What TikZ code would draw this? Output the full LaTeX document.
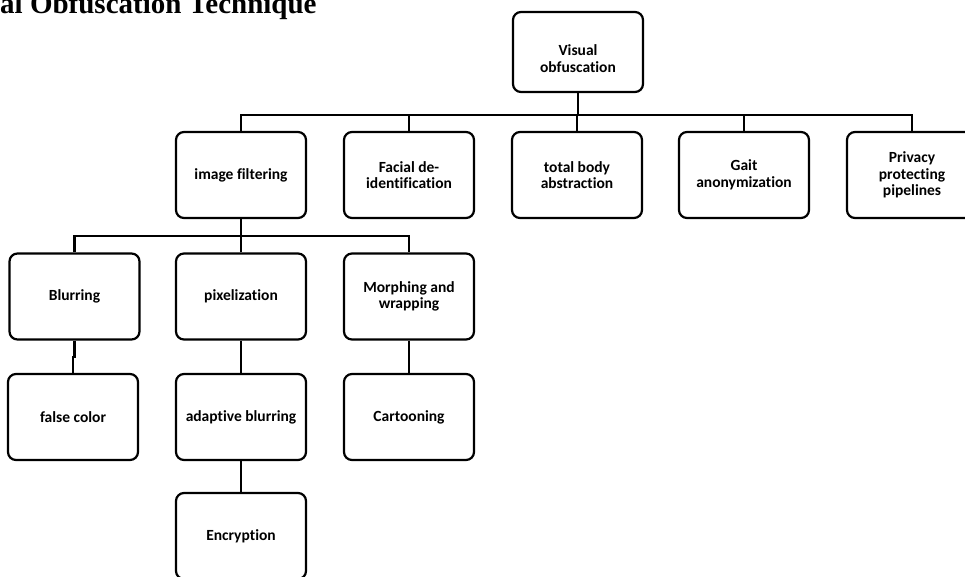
\documentclass[tikz,border=0pt]{standalone}
\usepackage{fontspec}
\setmainfont{Carlito}[Ligatures=NoCommon]
\newfontfamily\titlefont{Liberation Serif}
\begin{document}
\begin{tikzpicture}[x=1pt,y=-1pt,
  box/.style={draw, line width=2.2pt, rounded corners=8pt, minimum width=130pt,
    minimum height=86pt, align=center, inner sep=2pt,
    font=\fontsize{15.5}{16.5}\selectfont\bfseries},
  link/.style={line width=2.2pt}]
\useasboundingbox (0,0) rectangle (965,576);
\clip (0,0) rectangle (965,576);

% heading
\node[anchor=base west, inner sep=0pt, font=\titlefont\bfseries\fontsize{29}{30}\selectfont] (title) at (0,13) {al Obfuscation Technique};

% root (text sits a little below the middle)
\node[box, minimum height=80pt] (vis) at (578,52) {\rule{0pt}{24pt}Visual\\obfuscation};

% second level
\node[box] (img) at (241,175) {image filtering};
\node[box] (fac) at (409,175) {Facial de-\\identification};
\node[box] (tot) at (577,175) {total body\\abstraction};
\node[box] (gait) at (744,175) {Gait\\anonymization};
\node[box] (priv) at (912,175) {Privacy\\protecting\\pipelines};

% third level
\node[box] (blur) at (74.5,296.5) {Blurring};
\node[box] (pix) at (241,296.5) {pixelization};
\node[box] (morph) at (409,296.5) {Morphing and\\wrapping};

% fourth level
\node[box] (false) at (73,417) {false color};
\node[box] (adapt) at (241,417) {adaptive blurring};
\node[box] (cart) at (409,417) {Cartooning};

% fifth level
\node[box] (enc) at (241,536) {Encryption};

% bus under the root
\coordinate (busA) at (578,115);
\draw[link] (vis.south) -- (busA);
\draw[link] (img.north) |- (priv.north |- busA) -- (priv.north);
\draw[link] (fac.north) -- (fac.north |- busA);
\draw[link] (tot.north) -- (tot.north |- busA);
\draw[link] (gait.north) -- (gait.north |- busA);

% bus under image filtering
\coordinate (busB) at (241,236);
\draw[link] (img.south) -- (busB);
\draw[link] (blur.north) |- (morph.north |- busB) -- (morph.north);
\draw[link] (pix.north) -- (pix.north |- busB);

% vertical chains
\coordinate (jog) at (74.5,357);
\draw[link] (blur.south) -- (jog) -| (false.north);
\draw[link] (pix.south) -- (adapt.north);
\draw[link] (adapt.south) -- (enc.north);
\draw[link] (morph.south) -- (cart.north);
\end{tikzpicture}
\end{document}
